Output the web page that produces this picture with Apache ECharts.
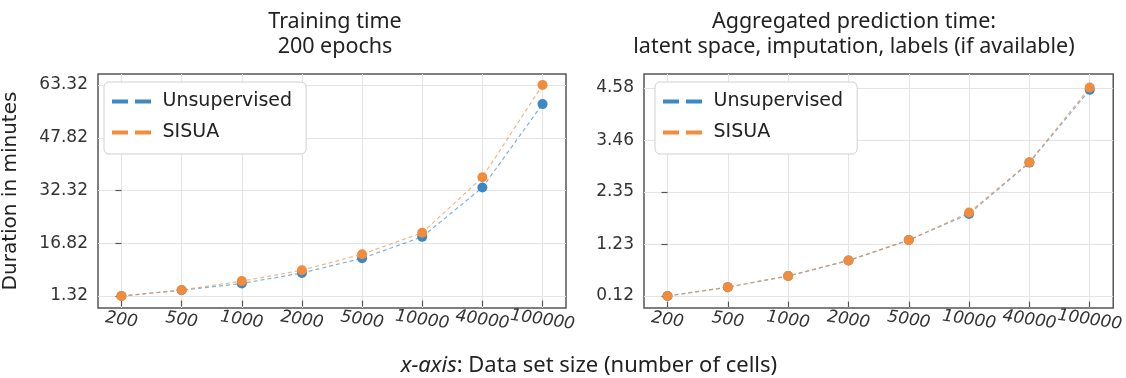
<!DOCTYPE html>
<html>
<head>
<meta charset="utf-8">
<script src="https://cdn.jsdelivr.net/npm/echarts@6/dist/echarts.min.js"></script>
<style>
  html, body { margin: 0; background: #fff; }
  #chart { width: 1126px; height: 378px; }
</style>
</head>
<body>
<div id="chart"></div>
<script>
// data set sizes (x categories)
const sizes = ['200', '500', '1000', '2000', '5000', '10000', '40000', '100000']

// training time, minutes
const trainUnsup = [1.3, 3.0, 5.0, 8.1, 12.4, 18.7, 33.2, 57.7]
const trainSisua = [1.32, 3.1, 5.7, 8.9, 13.6, 19.9, 36.2, 63.32]
// aggregated prediction time, minutes
const predUnsup = [0.12, 0.31, 0.55, 0.88, 1.32, 1.88, 2.98, 4.54]
const predSisua = [0.12, 0.31, 0.55, 0.88, 1.32, 1.91, 2.99, 4.59]

const trainTicks = [1.32, 16.82, 32.32, 47.82, 63.32]
const predTicks = [0.12, 1.23, 2.35, 3.46, 4.58]

const BLUE = '#3b88c4'
const ORANGE = '#f08c3c'
const TITLE_FONT = 'Noto Sans'
const idx = sizes.map((_, i) => i)

const chart = echarts.init(document.getElementById('chart'), null, { renderer: 'canvas' })

function xAxis(gridIndex) {
  return {
    type: 'value',
    gridIndex,
    min: -0.39,
    max: 7.39,
    axisLine: { show: false },
    axisTick: { show: true, customValues: idx, length: 6, lineStyle: { color: '#555', width: 1.2 } },
    axisLabel: {
      customValues: idx,
      formatter: (v) => sizes[Math.round(v)] ?? '',
      rotate: -8,
      align: 'center',
      margin: 12,
      fontFamily: 'DejaVu Sans',
      fontStyle: 'italic',
      fontSize: 17,
      color: '#333',
    },
    splitLine: { show: true, lineStyle: { color: '#e4e4e4', width: 1 } },
  }
}

function yAxis(gridIndex, min, max, ticks, name) {
  return {
    type: 'value',
    gridIndex,
    min,
    max,
    name,
    nameLocation: 'middle',
    nameRotate: 90,
    nameGap: 77,
    nameTextStyle: { fontFamily: 'DejaVu Sans', fontSize: 20, color: '#222' },
    axisLine: { show: false },
    axisTick: { show: true, customValues: ticks, length: 6, lineStyle: { color: '#555', width: 1.2 } },
    axisLabel: {
      customValues: ticks,
      formatter: (v) => v.toFixed(2),
      margin: 10,
      fontFamily: 'DejaVu Sans',
      fontSize: 17,
      color: '#333',
    },
    splitLine: { show: true, lineStyle: { color: '#e4e4e4', width: 1 } },
  }
}

function line(name, color, gi, values, z) {
  return {
    name,
    type: 'line',
    xAxisIndex: gi,
    yAxisIndex: gi,
    data: values.map((v, i) => [i, v]),
    symbol: 'circle',
    symbolSize: 10,
    z,
    itemStyle: { color },
    lineStyle: { color, width: 1.2, type: [4, 3], opacity: 0.65 },
    animation: false,
  }
}

function legend(left) {
  return {
    left,
    top: 82,
    orient: 'vertical',
    data: ['Unsupervised', 'SISUA'],
    icon: 'path://M0,0H16V4H0Z M23,0H39V4H23Z',
    itemWidth: 40,
    itemHeight: 4,
    itemGap: 12,
    padding: [10, 14, 12, 8],
    backgroundColor: '#fff',
    borderColor: '#d0d0d0',
    borderWidth: 1,
    borderRadius: 5,
    textStyle: { fontFamily: 'DejaVu Sans', fontSize: 19, color: '#222', padding: [0, 0, 0, 6] },
    selectedMode: false,
  }
}

const gridBox = { show: true, borderColor: '#555', borderWidth: 1.5, backgroundColor: 'transparent' }
const titleStyle = { fontFamily: TITLE_FONT, fontWeight: 'normal', fontSize: 21.5, lineHeight: 25, color: '#222' }

chart.setOption({
  backgroundColor: '#fff',
  animation: false,
  title: [
    {
      text: 'Training time\n200 epochs',
      left: 330, top: 4, textAlign: 'center',
      textStyle: titleStyle,
    },
    {
      text: 'Aggregated prediction time:\nlatent space, imputation, labels (if available)',
      left: 849, top: 4, textAlign: 'center',
      textStyle: titleStyle,
    },
    {
      text: '{i|x-axis}: Data set size (number of cells)',
      left: 584, top: 348, textAlign: 'center',
      textStyle: Object.assign({}, titleStyle, {
        fontSize: 22,
        rich: { i: { fontFamily: TITLE_FONT, fontStyle: 'italic', fontSize: 22, color: '#222' } },
      }),
    },
  ],
  legend: [legend(104), legend(655)],
  grid: [
    Object.assign({ left: 95, top: 74, width: 471, height: 234 }, gridBox),
    Object.assign({ left: 644, top: 74, width: 471, height: 234 }, gridBox),
  ],
  xAxis: [xAxis(0), xAxis(1)],
  yAxis: [
    yAxis(0, -2.2, 66.55, trainTicks, 'Duration in minutes'),
    yAxis(1, -0.137, 4.88, predTicks, ''),
  ],
  series: [
    line('Unsupervised', BLUE, 0, trainUnsup, 2),
    line('SISUA', ORANGE, 0, trainSisua, 3),
    line('Unsupervised', BLUE, 1, predUnsup, 2),
    line('SISUA', ORANGE, 1, predSisua, 3),
  ],
})
</script>
</body>
</html>
